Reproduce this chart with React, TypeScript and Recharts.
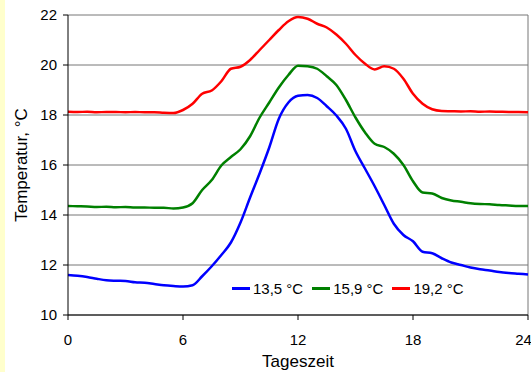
import React from 'react';
import { LineChart, Line, XAxis, YAxis, CartesianGrid, ReferenceLine, Legend } from 'recharts';

const hours = [
  0, 0.5, 1, 1.5, 2, 2.5, 3, 3.5, 4, 4.5, 5, 5.5, 6, 6.5, 7, 7.5, 8, 8.5, 9, 9.5, 10, 10.5, 11, 11.5,
  12, 12.5, 13, 13.5, 14, 14.5, 15, 15.5, 16, 16.5, 17, 17.5, 18, 18.5, 19, 19.5, 20, 20.5, 21, 21.5,
  22, 22.5, 23, 23.5, 24,
];

const blue = [
  11.6, 11.57, 11.52, 11.45, 11.39, 11.37, 11.36, 11.31, 11.29, 11.24, 11.19, 11.16, 11.14, 11.19, 11.55,
  11.95, 12.4, 12.9, 13.7, 14.7, 15.67, 16.7, 17.85, 18.5, 18.77, 18.8, 18.68, 18.35, 17.98, 17.45, 16.55,
  15.85, 15.15, 14.4, 13.65, 13.2, 12.95, 12.53, 12.47, 12.27, 12.1, 12.0, 11.9, 11.83, 11.78, 11.72,
  11.68, 11.65, 11.62,
];

const green = [
  14.36, 14.35, 14.34, 14.32, 14.33, 14.31, 14.32, 14.3, 14.3, 14.29, 14.29, 14.26, 14.3, 14.47, 15.0,
  15.4, 15.98, 16.32, 16.63, 17.15, 17.9, 18.5, 19.1, 19.6, 19.97, 19.95, 19.85, 19.55, 19.2, 18.6, 17.9,
  17.3, 16.85, 16.72, 16.45, 16.0, 15.35, 14.9, 14.86, 14.68, 14.58, 14.53, 14.47, 14.44, 14.43, 14.4,
  14.38, 14.36, 14.36,
];

const red = [
  18.13, 18.12, 18.13, 18.11, 18.12, 18.12, 18.11, 18.12, 18.11, 18.11, 18.09, 18.08, 18.2, 18.45, 18.85,
  18.98, 19.35, 19.85, 19.93, 20.2, 20.6, 21.0, 21.4, 21.75, 21.92, 21.85, 21.65, 21.5, 21.22, 20.85,
  20.4, 20.05, 19.82, 19.95, 19.85, 19.45, 18.85, 18.45, 18.23, 18.16, 18.15, 18.14, 18.15, 18.13, 18.14,
  18.13, 18.12, 18.12, 18.11,
];

const xTicks = [0, 6, 12, 18, 24];
const yTicks = [10, 12, 14, 16, 18, 20, 22];

const series = [
  { key: 'blue', name: '13,5 °C', color: '#0000FF' },
  { key: 'green', name: '15,9 °C', color: '#008000' },
  { key: 'red', name: '19,2 °C', color: '#FF0000' },
];

const data = hours.map((h, i) => ({ h, blue: blue[i], green: green[i], red: red[i] }));

const FONT = '"Liberation Sans", Arial, sans-serif';

const renderLegend = () => (
  <div style={{ display: 'flex', alignItems: 'center', fontFamily: FONT, fontSize: 15, color: '#000', lineHeight: '17px' }}>
    {series.map((s) => (
      <div key={s.key} style={{ display: 'flex', alignItems: 'center', marginRight: 9 }}>
        <span style={{ display: 'inline-block', width: 18, height: 3, background: s.color, marginRight: 3 }} />
        <span>{s.name}</span>
      </div>
    ))}
  </div>
);

const App: React.FC = () => {
  return (
    <div
      style={{
        position: 'absolute',
        left: 0,
        top: 0,
        width: 531,
        height: 372,
        background: 'linear-gradient(to right, #FFFFCC 0px, #FFFFCC 5px, #FFFFFF 5px)',
      }}
    >
      <LineChart width={531} height={372} data={data} margin={{ top: 15, right: 3, left: 0, bottom: 0 }}>
        <CartesianGrid vertical={false} stroke="#777" />
        <ReferenceLine x={24} stroke="#777" />
        <XAxis
          dataKey="h"
          type="number"
          domain={[0, 24]}
          ticks={xTicks}
          height={57}
          stroke="#000"
          tickSize={5}
          tickMargin={14}
          tick={{ fill: '#000', fontSize: 15, fontFamily: FONT }}
          label={{
            content: () => (
              <text x={298} y={367} textAnchor="middle" fontSize={17} fontFamily={FONT} fill="#000">
                Tageszeit
              </text>
            ),
          }}
        />
        <YAxis
          type="number"
          domain={[10, 22]}
          ticks={yTicks}
          width={68}
          stroke="#000"
          tickSize={5}
          tickMargin={6}
          tick={{ fill: '#000', fontSize: 15, fontFamily: FONT }}
          label={{
            content: () => (
              <text
                x={21}
                y={165}
                transform="rotate(-90 21 165)"
                textAnchor="middle"
                dominantBaseline="central"
                fontSize={17}
                fontFamily={FONT}
                fill="#000"
              >
                Temperatur, °C
              </text>
            ),
          }}
        />
        {series.map((s) => (
          <Line
            key={s.key}
            type="monotone"
            dataKey={s.key}
            name={s.name}
            stroke={s.color}
            strokeWidth={2.5}
            dot={false}
            isAnimationActive={false}
          />
        ))}
        <Legend
          layout="horizontal"
          verticalAlign="middle"
          align="center"
          content={renderLegend}
          wrapperStyle={{ left: 232, top: 280, width: 'auto' }}
        />
      </LineChart>
    </div>
  );
};

export default App;
